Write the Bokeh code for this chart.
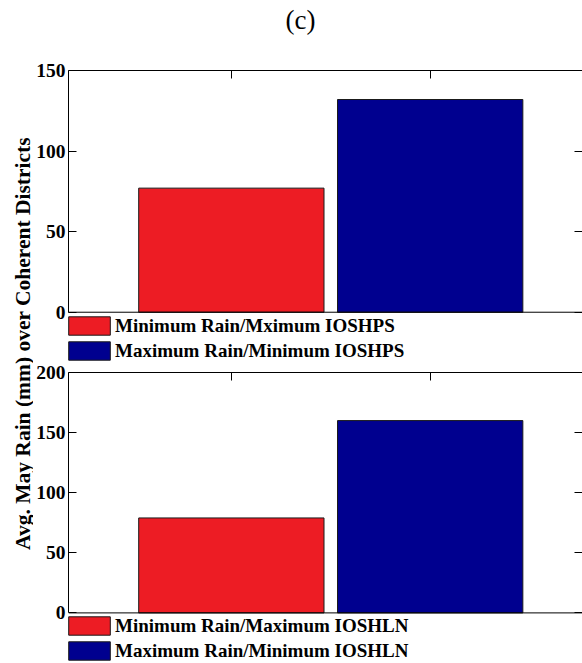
import math

from bokeh.plotting import figure
from bokeh.models import (ColumnDataSource, Range1d, LinearAxis, FixedTicker,
                          Legend, LegendItem, Label, Span)
from bokeh.layouts import row, column
from bokeh.embed import file_html
from bokeh.resources import INLINE

# Average May rainfall (mm) over coherent districts
positions = [1, 2]
colors = ["#ED1C24", "#00008F"]

hps_labels = ["Minimum Rain/Mximum IOSHPS", "Maximum Rain/Minimum IOSHPS"]
hps_values = [77, 132]
hps_ticks = [0, 50, 100, 150]

hln_labels = ["Minimum Rain/Maximum IOSHLN", "Maximum Rain/Minimum IOSHLN"]
hln_values = [79, 160]
hln_ticks = [0, 50, 100, 150, 200]

FONT = "Liberation Serif"


def blank(width, height):
    # empty canvas used for free-standing text
    b = figure(width=width, height=height, output_backend="svg", toolbar_location=None,
               x_axis_location=None, y_axis_location=None, outline_line_color=None,
               min_border=0, min_border_left=0, min_border_right=0,
               min_border_top=0, min_border_bottom=0)
    b.grid.visible = False
    return b


def panel(labels, values, ticks, height, top, y_start, legend_y):
    # the frame also holds the legend strip below the zero line
    p = figure(width=549, height=height, output_backend="svg",
               toolbar_location=None, x_axis_location=None, y_axis_location=None,
               x_range=Range1d(0.181, 2.766), y_range=Range1d(y_start, ticks[-1]),
               min_border_left=35, min_border_right=0,
               min_border_top=top, min_border_bottom=0)
    p.grid.visible = False
    p.outline_line_color = None

    src = ColumnDataSource(dict(x=positions, top=values, color=colors, label=labels))
    r = p.vbar(x="x", top="top", width=0.932, fill_color="color",
               line_color="#1a1a1a", line_width=1, source=src)

    # axis box: labelled left axis, bare right axis, top edge and zero line
    left = LinearAxis(ticker=FixedTicker(ticks=ticks), bounds=(0, ticks[-1]),
                      major_tick_in=8, major_tick_out=0,
                      minor_tick_in=0, minor_tick_out=0, axis_line_color="black",
                      major_label_standoff=3,
                      major_label_text_font=FONT, major_label_text_font_style="bold",
                      major_label_text_font_size="19.5px", major_label_text_color="black")
    p.add_layout(left, "left")
    right = LinearAxis(ticker=FixedTicker(ticks=ticks), bounds=(0, ticks[-1]),
                       major_tick_in=8, major_tick_out=0,
                       minor_tick_in=0, minor_tick_out=0, axis_line_color="black",
                       major_label_text_color=None, major_label_standoff=0)
    p.add_layout(right, "right")
    topax = LinearAxis(ticker=FixedTicker(ticks=positions), major_tick_in=8, major_tick_out=0,
                       minor_tick_in=0, minor_tick_out=0, axis_line_color="black",
                       major_label_text_color=None, major_label_standoff=0)
    p.add_layout(topax, "above")
    p.add_layout(Span(location=0, dimension="width", line_color="black", line_width=1))

    legend = Legend(items=[LegendItem(label=labels[0], renderers=[r], index=0),
                           LegendItem(label=labels[1], renderers=[r], index=1)],
                    location=(-5, legend_y), orientation="vertical",
                    glyph_width=52, glyph_height=23, label_height=23,
                    label_standoff=0, spacing=2, padding=0, margin=0,
                    label_text_font=FONT, label_text_font_style="bold",
                    label_text_font_size="19px", label_text_color="black",
                    background_fill_alpha=0, border_line_alpha=0)
    p.add_layout(legend, "center")
    return p


head = blank(549, 60)
head.add_layout(Label(x=232, y=41, x_units="screen", y_units="screen", text="(c)",
                      text_align="center", text_baseline="middle",
                      text_font=FONT, text_font_size="27px", text_color="black"))

top = panel(hps_labels, hps_values, hps_ticks, 302, 10, -31.2, 0)
bottom = panel(hln_labels, hln_values, hln_ticks, 301, 10, -42.1, 1)

# shared y label to the left of both panels
lab = blank(33, 663)
lab.add_layout(Label(x=22, y=320, x_units="screen", y_units="screen",
                     text="Avg. May Rain (mm) over Coherent Districts",
                     angle=math.pi / 2, text_align="center", text_baseline="middle",
                     text_font=FONT, text_font_style="bold", text_font_size="21.5px",
                     text_color="black"))

layout = row(lab, column(head, top, bottom, spacing=0), spacing=0)

open("out.html", "w").write(file_html(layout, INLINE))
